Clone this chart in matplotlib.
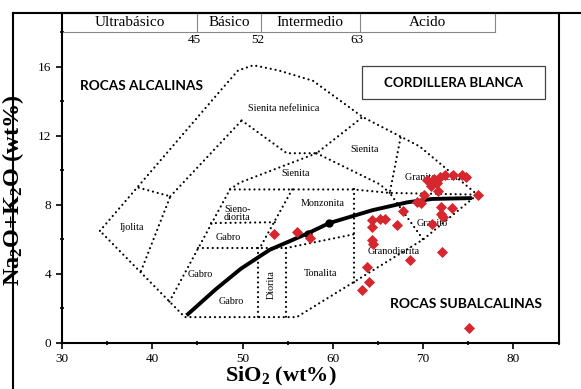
import numpy as np
import matplotlib
matplotlib.use("Agg")
import matplotlib.pyplot as plt
from matplotlib.lines import Line2D
from matplotlib.patches import Rectangle

# --- data (SiO2 wt%, Na2O+K2O wt%) ---
sio2 = [53.5, 56.0, 57.5, 63.2, 64.0, 63.8, 64.3, 64.5, 64.3, 64.3, 65.2, 65.8,
        67.1, 67.8, 68.6, 72.1, 69.3, 69.8, 70.1, 70.4, 71.5, 71.9, 71.6, 72.4,
        73.3, 74.3, 74.8, 76.1, 72.0, 73.2, 72.0, 72.2, 71.0, 75.1, 70.9, 71.2]
alk = [6.3, 6.45, 6.1, 3.05, 3.55, 4.4, 5.95, 5.75, 6.75, 7.15, 7.2, 7.2,
       6.85, 7.65, 4.8, 5.3, 8.15, 8.1, 8.6, 9.45, 9.25, 9.65, 8.8, 9.75,
       9.75, 9.75, 9.6, 8.55, 7.9, 7.85, 7.5, 7.3, 6.9, 0.85, 9.1, 9.5]

# alkaline / subalkaline divide
curve_x = [43.8, 47.0, 49.8, 53.0, 57.2, 59.6, 64.4, 68.2, 71.0, 75.4]
curve_y = [1.6, 3.1, 4.3, 5.4, 6.35, 6.95, 7.7, 8.15, 8.35, 8.4]
dots_x = [57.3, 59.6]
dots_y = [6.3, 6.95]

# field boundaries
outer_x = [34.2, 47.5, 49.5, 51.2, 54.0, 57.8, 63.3, 69.6, 76.0, 70.0, 56.0, 43.6, 34.2]
outer_y = [6.5, 14.6, 15.8, 16.1, 15.8, 15.2, 13.1, 11.4, 8.6, 6.0, 1.5, 1.5, 6.5]
inner_lines = [
    ([38.5, 42.0, 38.7], [9.0, 8.5, 4.1]),            # ijolita
    ([42.0, 49.9], [8.5, 12.9]),
    ([49.9, 54.9, 58.2, 63.3], [12.9, 11.0, 11.0, 13.1]),
    ([41.9, 48.6, 49.7, 58.2], [2.4, 8.9, 9.3, 11.0]),
    ([58.2, 65.2, 66.3], [11.0, 9.2, 8.7]),
    ([48.6, 62.3, 66.3, 76.0], [8.9, 8.9, 8.7, 8.6]),
    ([67.5, 66.3, 70.0], [11.9, 8.7, 6.0]),
    ([62.3, 62.3], [8.9, 3.5]),
    ([54.8, 62.3], [5.5, 6.3]),
    ([45.1, 54.8], [5.5, 5.5]),
    ([51.7, 51.7], [5.5, 1.5]),
    ([54.8, 54.8], [5.5, 1.5]),
    ([55.5, 51.9], [8.9, 5.5]),
    ([46.5, 53.6], [6.95, 7.0]),
]

field_names = ["Sienita nefelinica", "Sienita", "Sienita", "Sieno-\ndiorita", "Gabro",
               "Ijolita", "Gabro", "Gabro", "Monzonita", "Tonalita", "Granodiorita",
               "Granito", "Granito alcalino"]
field_x = [54.6, 63.5, 55.9, 49.4, 48.4, 37.75, 45.3, 48.7, 58.9, 58.6, 66.7, 71.0, 71.6]
field_y = [13.6, 11.2, 9.85, 7.5, 6.1, 6.7, 3.95, 2.4, 8.1, 4.05, 5.3, 6.95, 9.6]

groups = ["Ultrabásico", "Básico", "Intermedio", "Acido"]
group_edges = [30, 45, 52, 63, 78]

serif = "Liberation Serif"
sans = "Lato"
plt.rcParams["mathtext.fontset"] = "custom"
plt.rcParams["mathtext.rm"] = "Liberation Serif:bold"
plt.rcParams["mathtext.it"] = "Liberation Serif:bold"
plt.rcParams["mathtext.bf"] = "Liberation Serif:bold"

fig = plt.figure(figsize=(5.81, 3.89), dpi=100)
ax = fig.add_axes([0.1067, 0.1183, 0.8553, 0.8483])
ax.set_xlim(30, 85.04)
ax.set_ylim(0, 19.13)

dot = (0, (0.01, 2.2))
ax.plot(outer_x, outer_y, color="black", lw=1.6, ls=dot, dash_capstyle="round")
for lx, ly in inner_lines:
    ax.plot(lx, ly, color="black", lw=1.6, ls=dot, dash_capstyle="round")

ax.plot(curve_x, curve_y, color="black", lw=2.8, solid_capstyle="butt",
        solid_joinstyle="round")
ax.plot(dots_x, dots_y, "o", color="black", ms=5)
ax.scatter(sio2, alk, marker="D", s=32, color="#d7262e", zorder=5, linewidths=0)

for name, fx, fy in zip(field_names, field_x, field_y):
    ax.text(fx, fy, name, ha="center", va="center", fontsize=7.3, family=serif,
            linespacing=0.9)
ax.text(53.2, 3.4, "Diorita", rotation=90, ha="center", va="center", fontsize=7.3,
        family=serif)

# silica groups bar at top
top = 19.13
band = 18.03
ax.plot([30, 78], [band, band], color="#888888", lw=0.8)
for e in group_edges[1:]:
    ax.plot([e, e], [band, top], color="#888888", lw=0.8)
for i, g in enumerate(groups):
    ax.text((group_edges[i] + group_edges[i + 1]) / 2, (band + top) / 2, g,
            ha="center", va="center", fontsize=11, family=serif)
for e in group_edges[1:4]:
    ax.text(e - 0.3, 17.55, str(e), ha="center", va="center", fontsize=9.5, family=serif)

ax.text(32.0, 14.9, "ROCAS ALCALINAS", fontsize=9.8, fontweight="bold", family=sans,
        ha="left", va="center")
ax.text(66.3, 2.26, "ROCAS SUBALCALINAS", fontsize=10, fontweight="bold", family=sans,
        ha="left", va="center")
ax.add_patch(Rectangle((63.2, 14.14), 20.27, 1.92, fill=False, lw=0.9,
                       edgecolor="#444444"))
ax.text(73.35, 15.1, "CORDILLERA BLANCA", fontsize=9.6, fontweight="bold", family=sans,
        ha="center", va="center")

ax.set_xticks([30, 40, 50, 60, 70, 80])
ax.set_xticks([35, 45, 55, 65, 75, 85], minor=True)
ax.set_yticks([0, 4, 8, 12, 16])
ax.set_yticks([2, 6, 10, 14, 18], minor=True)
ax.tick_params(which="major", direction="out", length=4, width=1.2, labelsize=9.5)
ax.tick_params(which="minor", direction="inout", length=3, width=1.2)
for lab in ax.get_xticklabels() + ax.get_yticklabels():
    lab.set_family(serif)
for s in ax.spines.values():
    s.set_linewidth(1.5)

ax.set_xlabel("SiO$_2$ (wt%)", fontsize=16, fontweight="bold", family=serif)
ax.xaxis.set_label_coords((281 - 62) / 497, -(377 - 343) / 330)
ax.xaxis.label.set_va("center")
ax.set_ylabel("Na$_2$O+K$_2$O (wt%)", fontsize=17.5, fontweight="bold", family=serif)
ax.yaxis.set_label_coords(-(62 - 26) / 497, (343 - 190) / 330)

# outer frame of the picture
fig.add_artist(Line2D([13 / 581, 13 / 581], [0, 1 - 13 / 389], color="black", lw=1.5))
fig.add_artist(Line2D([13 / 581, 1], [1 - 13 / 389, 1 - 13 / 389], color="black", lw=1.5))

fig.savefig("out.png", dpi=100)
